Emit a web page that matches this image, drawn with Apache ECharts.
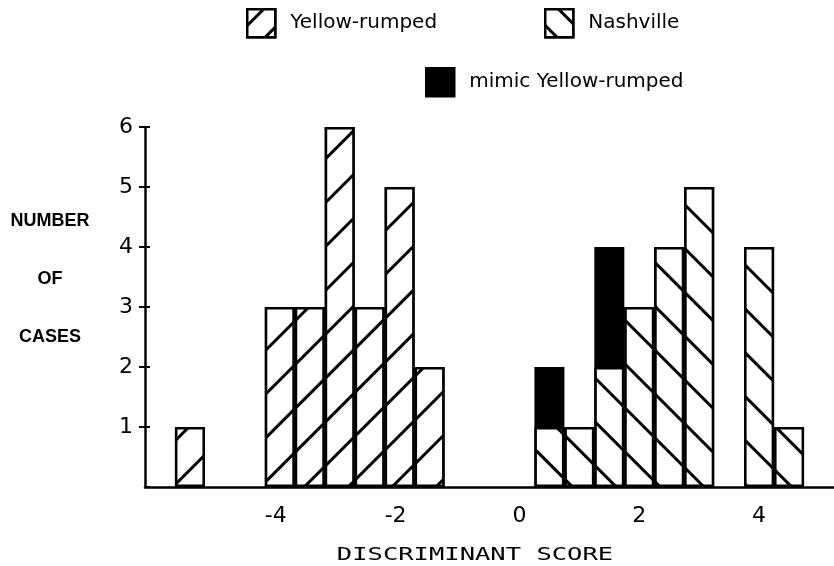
<!DOCTYPE html>
<html><head><meta charset="utf-8">
<script src="https://cdn.jsdelivr.net/npm/echarts@6/dist/echarts.min.js"></script>
<style>html,body{margin:0;padding:0;background:#fff}#c{width:834px;height:566px}</style>
</head><body><div id="c"></div>
<script>
// Histogram bins (discriminant score, bin width 0.5), listed by their centres
const binCenters = ['-6', '-5.5', '-5', '-4.5', '-4', '-3.5', '-3', '-2.5', '-2', '-1.5', '-1', '-0.5',
                    '0', '0.5', '1', '1.5', '2', '2.5', '3', '3.5', '4', '4.5', '5'];
const yrBins = ['-5.5', '-4', '-3.5', '-3', '-2.5', '-2', '-1.5'];
const yrCounts = [1, 3, 3, 6, 3, 5, 2];
const nvBins = ['0.5', '1', '1.5', '2', '2.5', '3', '4', '4.5'];
const nvCounts = [1, 1, 2, 3, 4, 5, 4, 1];
const mimicBins = ['0.5', '1.5'];
const mimicCounts = [1, 2]; // stacked on top of Nashville
const xTicks = ['-4', '-2', '0', '2', '4'];
const yTicks = [1, 2, 3, 4, 5, 6];

function toSeries(bins, counts) {
  return binCenters.map(c => { const i = bins.indexOf(c); return i >= 0 ? counts[i] : '-'; });
}

const chart = echarts.init(document.getElementById('c'), null, {renderer: 'canvas'});
function stripe(rot, dashY) {
  return {symbol: 'rect', symbolSize: 1, dashArrayX: [1, 0], dashArrayY: dashY,
          rotation: rot, color: '#000', backgroundColor: '#fff'};
}
const lab = {color: '#000', fontFamily: 'DejaVu Sans', fontSize: 22};
const legTxt = {color: '#000', fontFamily: 'DejaVu Sans', fontSize: 20, padding: [0, 0, 0, 10]};
function legend(name, left, top, decal) {
  return {data: [name], left: left, top: top, orient: 'horizontal', padding: 0,
          itemWidth: 28, itemHeight: 28, icon: 'rect', textStyle: legTxt, selectedMode: false,
          itemStyle: {borderColor: '#000', borderWidth: 2.5, decal: decal}};
}
chart.setOption({
  animation: false,
  backgroundColor: '#fff',
  grid: {left: 145, top: 127, width: 690, height: 360},
  legend: [
    legend('Yellow-rumped', 246, 8, stripe(-Math.PI / 4, [0, 10, 2.5, 7.5])),
    legend('Nashville', 544, 8, stripe(Math.PI / 4, [0, 10, 2.5, 7.5])),
    legend('mimic Yellow-rumped', 425, 67, 'inherit')
  ],
  xAxis: {
    type: 'category', data: binCenters, boundaryGap: true,
    axisLine: {show: true, onZero: false, lineStyle: {color: '#000', width: 2.5}},
    axisTick: {show: false}, splitLine: {show: false},
    axisLabel: Object.assign({interval: 0, margin: 18,
      formatter: v => xTicks.indexOf(v) < 0 ? '' : (v.charAt(0) === '-' ? v + '{s| }' : v),
      rich: {s: {width: 8, fontSize: 22}}}, lab)
  },
  yAxis: [{
    type: 'value', min: 0, max: 6, interval: 1,
    axisLine: {show: true, onZero: false, lineStyle: {color: '#000', width: 2.5}},
    axisTick: {show: true, length: 6, lineStyle: {color: '#000', width: 2}},
    axisLabel: Object.assign({showMinLabel: false, margin: 12,
      formatter: v => (yTicks.indexOf(v) >= 0 ? String(v) : '')}, lab),
    splitLine: {show: false}
  }, {
    type: 'value', min: 0, max: 6, interval: 1, position: 'left',
    axisLine: {show: false, onZero: false},
    axisTick: {show: true, inside: true, length: 5, lineStyle: {color: '#000', width: 2}},
    axisLabel: {show: false}, splitLine: {show: false}
  }],
  series: [
    {type: 'bar', name: 'Yellow-rumped', barWidth: 30, barGap: '-100%',
     data: toSeries(yrBins, yrCounts),
     itemStyle: {color: '#fff', borderColor: '#000', borderWidth: 2.5, decal: stripe(-Math.PI / 4, [2.5, 27.5])}},
    {type: 'bar', name: 'Nashville', stack: 'n', barWidth: 30, barGap: '-100%',
     data: toSeries(nvBins, nvCounts),
     itemStyle: {color: '#fff', borderColor: '#000', borderWidth: 2.5, decal: stripe(Math.PI / 4, [2.5, 27.5])}},
    {type: 'bar', name: 'mimic Yellow-rumped', stack: 'n', barWidth: 30, barGap: '-100%',
     data: toSeries(mimicBins, mimicCounts),
     itemStyle: {color: '#000', borderColor: '#000', borderWidth: 2.5}}
  ],
  graphic: [
    {type: 'text', x: 50, y: 192,
     style: {text: 'NUMBER\nOF\nCASES', fill: '#000', fontFamily: 'Liberation Sans', fontWeight: 'bold',
             fontSize: 18, lineHeight: 58, align: 'center', verticalAlign: 'top'}},
    {type: 'text', x: 475, y: 556, scaleX: 1.5, originX: 0,
     style: {text: 'DISCRIMINANT SCORE', fill: '#000', fontFamily: 'DejaVu Sans Mono', fontSize: 17,
             align: 'center', verticalAlign: 'middle'}}
  ]
});
</script></body></html>
